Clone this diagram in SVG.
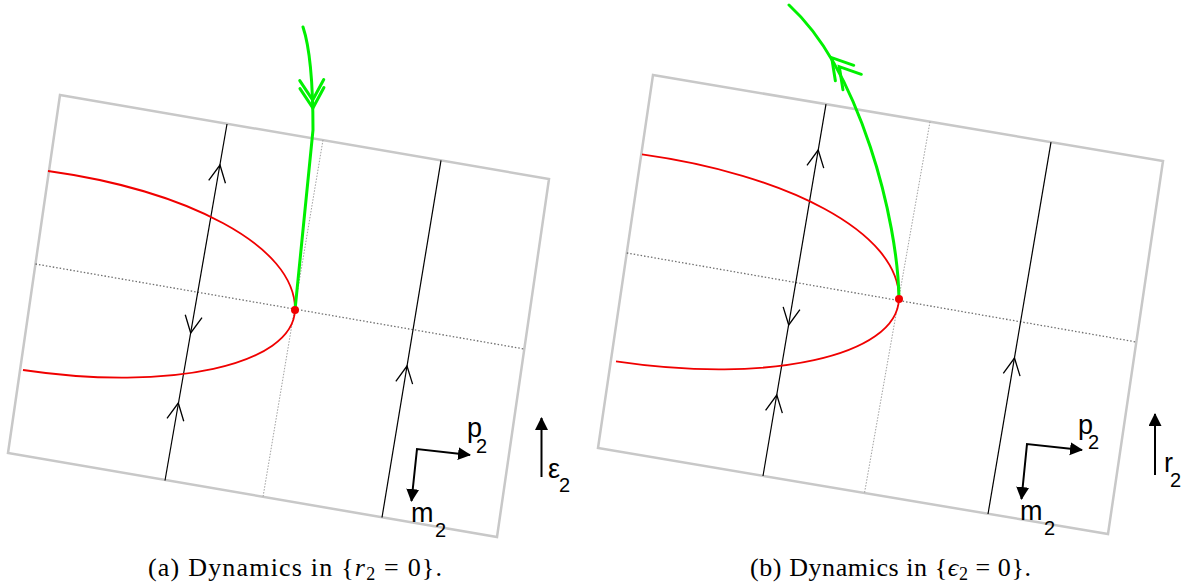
<svg xmlns="http://www.w3.org/2000/svg" xmlns:xlink="http://www.w3.org/1999/xlink" width="1185" height="584" viewBox="0 0 1185 584">
<style>
.frame{fill:none;stroke:#c8c8c8;stroke-width:2.5}
.dot1{fill:none;stroke:#707070;stroke-width:1.3;stroke-dasharray:1.5 2}
.dot2{fill:none;stroke:#a0a0a0;stroke-width:1;stroke-dasharray:1.5 1.5}
.traj{fill:none;stroke:#000;stroke-width:1.2}
.red{fill:none;stroke:#f00000;stroke-width:1.8}
.green{fill:none;stroke:#00f000;stroke-width:3;stroke-linecap:round}
.axis{fill:none;stroke:#000;stroke-width:2}
.lab{font-family:"Liberation Sans",Arial,sans-serif;font-size:27px;fill:#000}
.sub{font-family:"Liberation Sans",Arial,sans-serif;font-size:20px;fill:#000}
.cap{font-family:"Liberation Serif","Times New Roman",serif;font-size:26px;fill:#000}
</style>
<defs>
<path id="chev" d="M-8.5,17 L0,0 L8.5,17" fill="none" stroke="#000" stroke-width="1.3"/>
<path id="gchev" d="M-12,20 L0,0 L12,20" fill="none" stroke="#00f000" stroke-width="3" stroke-linecap="round"/>
<marker id="ah" markerWidth="14" markerHeight="14" refX="12" refY="6.5" orient="auto-start-reverse" markerUnits="userSpaceOnUse">
<path d="M0,0 L13,6.5 L0,13 z" fill="#000"/>
</marker>
</defs>

<g id="panel-a">
<g id="frame-a"><polygon class="frame" points="60,95 549,179 497,537 8,453"/></g>
<g id="connectors-a">
<line class="dot1" x1="35.5" y1="264" x2="524.3" y2="349"/>
<line class="dot2" x1="323" y1="140" x2="263" y2="497"/>
<line class="traj" x1="227" y1="124" x2="165" y2="480.5"/>
<line class="traj" x1="441" y1="160.4" x2="382" y2="517.5"/>
<use href="#chev" transform="translate(220,165) rotate(9.9)"/>
<use href="#chev" transform="translate(190.7,333) rotate(189.9)"/>
<use href="#chev" transform="translate(178.3,403) rotate(9.9)"/>
<use href="#chev" transform="translate(407,366) rotate(9.4)"/>
<path class="red" d="M48,171 C185,190 296,245 295,310 C293,365 170,392 23,370"/>
<path class="green" d="M303,27 C310,48 313,80 313,130 L295,310"/>
<use href="#gchev" transform="translate(312.7,100) rotate(177.3)"/>
<use href="#gchev" transform="translate(312.9,108) rotate(177.3)"/>
</g>
<g id="eq-a"><circle cx="295" cy="310" r="4" fill="#f00000"/></g>
<g id="axes-a">
<polyline class="axis" points="470,455 417,449 411.5,501" marker-start="url(#ah)" marker-end="url(#ah)"/>
<line class="axis" x1="541.5" y1="477" x2="541.5" y2="418" marker-end="url(#ah)"/>
<text class="lab" x="467" y="437">p</text><text class="sub" x="476" y="453">2</text>
<text class="lab" x="548" y="478">ε</text><text class="sub" x="559" y="492">2</text>
<text class="lab" x="411" y="522">m</text><text class="sub" x="435" y="537">2</text>
</g>
<g id="caption-a"><text class="cap" x="148" y="576" textLength="294" lengthAdjust="spacing">(a) Dynamics in {<tspan font-style="italic">r</tspan><tspan font-size="18" dy="4">2</tspan><tspan dy="-4"> = 0}.</tspan></text></g>
</g>

<g id="panel-b">
<g id="frame-b"><polygon class="frame" points="653,75 1163,161 1108,534 598,448"/></g>
<g id="connectors-b">
<line class="dot1" x1="626.8" y1="253" x2="1136.3" y2="342"/>
<line class="dot2" x1="930" y1="121.7" x2="864.5" y2="493"/>
<line class="traj" x1="826" y1="104.2" x2="763" y2="476"/>
<line class="traj" x1="1051" y1="142.2" x2="988" y2="514"/>
<use href="#chev" transform="translate(818.2,150) rotate(9.6)"/>
<use href="#chev" transform="translate(788.7,325) rotate(189.6)"/>
<use href="#chev" transform="translate(776.8,395) rotate(9.6)"/>
<use href="#chev" transform="translate(1014.5,358) rotate(9.6)"/>
<path class="red" d="M642,154.4 C784.6,174.2 900,231.4 899,299 C896.9,356.2 769,384.3 616,361.4"/>
<path class="green" d="M899,299 C898,220 860,70 789,5"/>
<use href="#gchev" transform="translate(831.7,57.7) rotate(-40)"/>
<use href="#gchev" transform="translate(839.3,66.7) rotate(-40)"/>
</g>
<g id="eq-b"><circle cx="899" cy="299" r="4" fill="#f00000"/></g>
<g id="axes-b">
<polyline class="axis" points="1082,450 1027,444 1021.5,499" marker-start="url(#ah)" marker-end="url(#ah)"/>
<line class="axis" x1="1155" y1="475" x2="1155" y2="414" marker-end="url(#ah)"/>
<text class="lab" x="1078" y="434">p</text><text class="sub" x="1088" y="449">2</text>
<text class="lab" x="1164" y="472">r</text><text class="sub" x="1170" y="487">2</text>
<text class="lab" x="1020" y="520">m</text><text class="sub" x="1044" y="535">2</text>
</g>
<g id="caption-b"><text class="cap" x="750" y="576" textLength="281" lengthAdjust="spacing">(b) Dynamics in {<tspan font-style="italic">ϵ</tspan><tspan font-size="18" dy="4">2</tspan><tspan dy="-4"> = 0}.</tspan></text></g>
</g>
</svg>
